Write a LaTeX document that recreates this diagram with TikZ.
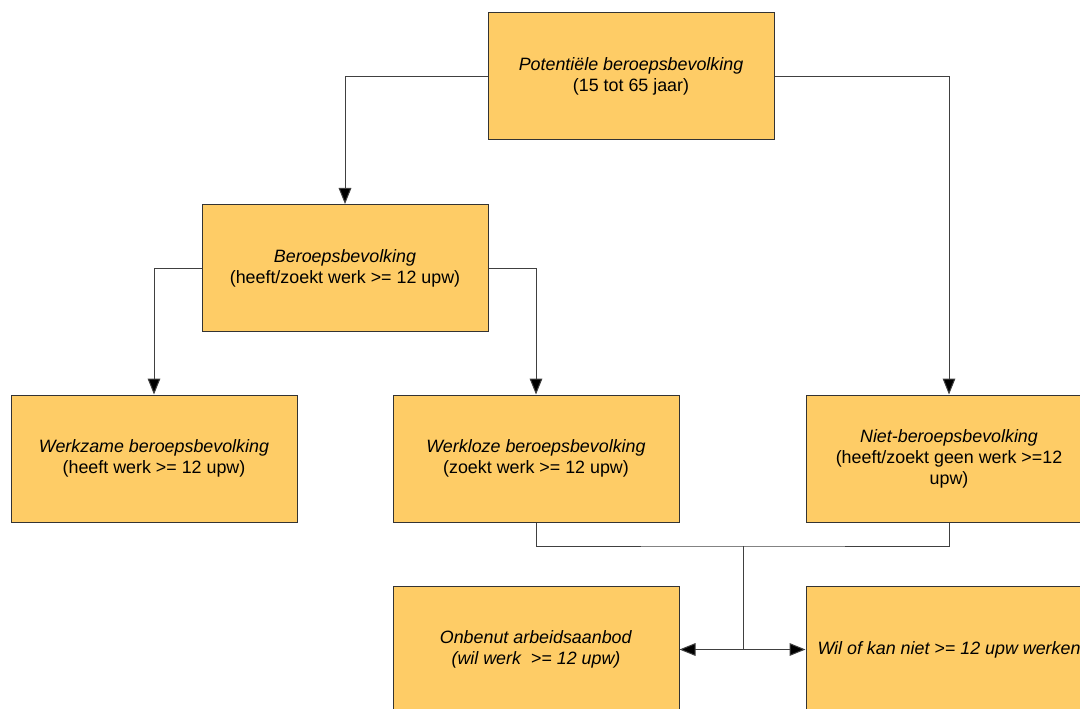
\documentclass[tikz,border=0pt]{standalone}
\usepackage{fontspec}
\setmainfont{Liberation Sans}
\usetikzlibrary{arrows.meta}

\definecolor{boxfill}{RGB}{254,204,102}
\definecolor{lijn}{RGB}{64,64,64}

\begin{document}
\begin{tikzpicture}[x=0.75pt,y=-0.75pt,>={Triangle[length=12pt,width=9.5pt,fill=black]},
	box/.style={draw=black!80,line width=0.75pt,fill=boxfill,
		minimum width=214.5pt,minimum height=95.25pt,align=center,
		font=\fontsize{13.4}{15.75}\selectfont},
	lijnen/.style={draw=lijn,line width=0.75pt}]

\useasboundingbox (0,0) rectangle (1080,709);
\clip (0,0) rectangle (1080,709);

\def\rij{458.5}
\def\onder{649.5}

\node[box] (pot) at (631,76.5) {\textit{Potentiële beroepsbevolking}\\(15 tot 65 jaar)};
\node[box] (beroeps) at (345,268) {\textit{Beroepsbevolking}\\(heeft/zoekt werk >= 12 upw)};

\node[box] (werkzaam) at (154,\rij) {\textit{Werkzame beroepsbevolking}\\(heeft werk >= 12 upw)};
\node[box] (werkloos) at (536,\rij) {\textit{Werkloze beroepsbevolking}\\(zoekt werk >= 12 upw)};
\node[box] (niet) at (949,\rij) {\textit{Niet-beroepsbevolking}\\(heeft/zoekt geen werk >=12\\upw)};

\node[box] (onbenut) at (536,\onder) {\textit{Onbenut arbeidsaanbod}\\\textit{(wil werk \ >= 12 upw)}};
\node[box] (wilniet) at (949,\onder) {\textit{Wil of kan niet >= 12 upw werken}};

\draw[lijnen,->] (pot.west) -| (beroeps.north);
\draw[lijnen,->] (pot.east) -| (niet.north);
\draw[lijnen,->] (beroeps.west) -| (werkzaam.north);
\draw[lijnen,->] (beroeps.east) -| (werkloos.north);

\coordinate (bus) at (743,546);
\draw[lijnen] (werkloos.south) |- (bus) -| (niet.south);
\draw[lijnen] (bus) -- (bus |- onbenut.east);
\draw[lijnen,<->] (onbenut.east) -- (wilniet.west);

\end{tikzpicture}
\end{document}
